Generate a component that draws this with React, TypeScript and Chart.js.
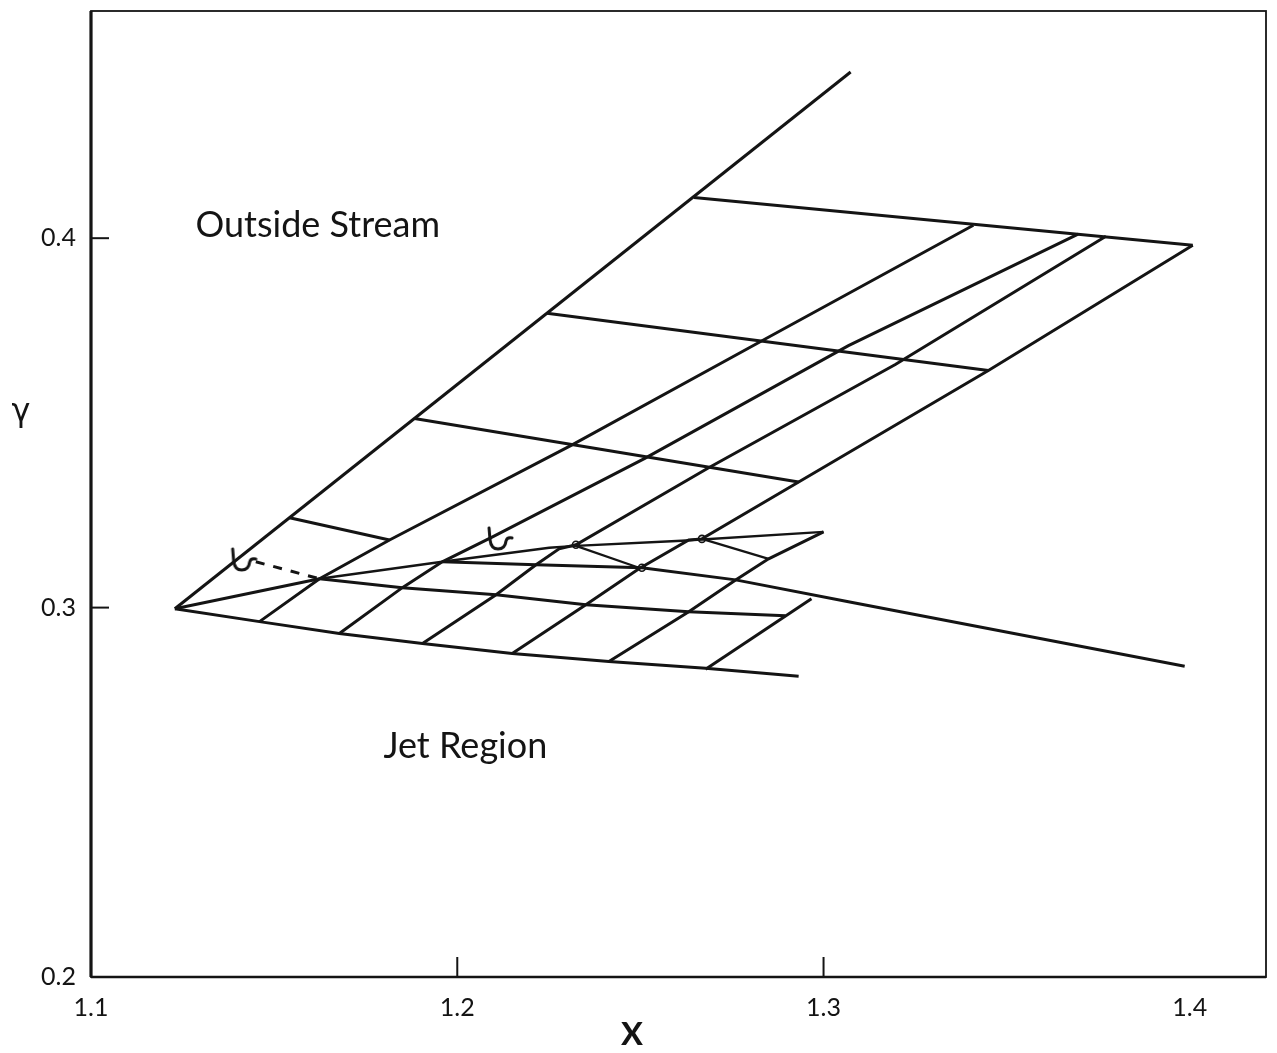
import React, { useEffect, useRef } from 'react';
import { Chart, registerables } from 'chart.js';

Chart.register(...registerables);

// Axis ticks
const xTickValues = [1.1, 1.2, 1.3, 1.4];
const yTickValues = [0.2, 0.3, 0.4];
const xInnerTicks = [1.2, 1.3];
const yInnerTicks = [0.3, 0.4];

// Outside-stream boundary (first characteristic from the lip)
const upperBoundary = [[1.1229, 0.2997], [1.3074, 0.4450]];

// Outside-stream rows (leaving the upper boundary)
const outerRow1 = [[1.2646, 0.4110], [1.4008, 0.3981]];
const outerRow2 = [[1.2245, 0.3797], [1.3450, 0.3642]];
const outerRow3 = [[1.1883, 0.3512], [1.2932, 0.3340]];
const outerRow4 = [[1.1542, 0.3243], [1.1815, 0.3183]];

// Characteristics crossing from jet region into the outside stream
const diag1 = [[1.1460, 0.2962], [1.1624, 0.3078], [1.1815, 0.3183], [1.2311, 0.3439], [1.2837, 0.3725], [1.3409, 0.4035]];
const diag2 = [[1.1678, 0.2930], [1.1850, 0.3054], [1.1959, 0.3124], [1.2095, 0.3191], [1.2512, 0.3404], [1.3068, 0.3709], [1.3695, 0.4011]];
const diag3 = [[1.1905, 0.2903], [1.2106, 0.3035], [1.2215, 0.3116], [1.2278, 0.3159], [1.2324, 0.3170], [1.2684, 0.3377], [1.3196, 0.3658], [1.3771, 0.4005]];
const diag4 = [[1.2150, 0.2876], [1.2351, 0.3008], [1.2496, 0.3105], [1.2632, 0.3183], [1.2668, 0.3186], [1.2932, 0.3340], [1.3450, 0.3642], [1.4008, 0.3981]];
const diag5 = [[1.2414, 0.2854], [1.2632, 0.2989], [1.2760, 0.3075], [1.2850, 0.3132], [1.3000, 0.3205]];
const diag6 = [[1.2678, 0.2833], [1.2967, 0.3024]];

// Jet region lines
const fanLine = [[1.1229, 0.2997], [1.1624, 0.3078]];
const wedgeUpper = [[1.1624, 0.3078], [1.1959, 0.3124], [1.2251, 0.3162], [1.2324, 0.3167], [1.2613, 0.3181], [1.3000, 0.3205]];
const jetBoundary = [[1.1959, 0.3124], [1.2215, 0.3116], [1.2504, 0.3108], [1.2760, 0.3075], [1.3068, 0.3016], [1.3986, 0.2841]];
const jetRow1 = [[1.1624, 0.3078], [1.1850, 0.3054], [1.2106, 0.3035], [1.2351, 0.3008], [1.2632, 0.2989], [1.2896, 0.2978]];
const lowerBoundary = [[1.1229, 0.2997], [1.1460, 0.2962], [1.1678, 0.2930], [1.1905, 0.2903], [1.2150, 0.2876], [1.2414, 0.2854], [1.2678, 0.2836], [1.2932, 0.2814]];
const wedgeRow1 = [[1.2324, 0.3167], [1.2496, 0.3108]];
const wedgeRow2 = [[1.2668, 0.3186], [1.2850, 0.3132]];
const dashedLink = [[1.1450, 0.3124], [1.1624, 0.3078]];

// Small markers
const hookMarks = [[1.1414, 0.3129], [1.2114, 0.3186]];
const circleMarks = [[1.2324, 0.3170], [1.2504, 0.3108], [1.2668, 0.3186]];

// Region labels
const regionLabels = [
  { text: 'Outside Stream', x: 1.1619, y: 0.4035 },
  { text: 'Jet Region', x: 1.2022, y: 0.2625 },
];

const toPts = (arr: number[][]) => arr.map(([x, y]) => ({ x, y }));

const INK = '#141414';
const FONT = 'Lato, "DejaVu Sans", sans-serif';

export default function App() {
  const ref = useRef<HTMLCanvasElement | null>(null);

  useEffect(() => {
    if (!ref.current) return;

    const hook = document.createElement('canvas');
    hook.width = 30;
    hook.height = 26;
    const hc = hook.getContext('2d')!;
    hc.strokeStyle = INK;
    hc.lineWidth = 3;
    hc.lineCap = 'round';
    hc.beginPath();
    hc.moveTo(5, 2);
    hc.lineTo(6, 14);
    hc.quadraticCurveTo(7, 23, 14, 23);
    hc.quadraticCurveTo(21, 23, 22, 15);
    hc.quadraticCurveTo(23, 11, 28, 12);
    hc.stroke();

    const lineDs = (data: number[][], width = 3, dash: number[] = []) => ({
      data: toPts(data),
      showLine: true,
      borderColor: INK,
      borderWidth: width,
      borderDash: dash,
      pointRadius: 0,
      pointHoverRadius: 0,
      fill: false,
      tension: 0,
    });

    const datasets: any[] = [
      lineDs(upperBoundary),
      lineDs(outerRow1),
      lineDs(outerRow2),
      lineDs(outerRow3),
      lineDs(outerRow4),
      lineDs(diag1),
      lineDs(diag2),
      lineDs(diag3),
      lineDs(diag4),
      lineDs(diag5),
      lineDs(diag6),
      lineDs(fanLine),
      lineDs(wedgeUpper, 2.4),
      lineDs(jetBoundary),
      lineDs(jetRow1),
      lineDs(lowerBoundary),
      lineDs(wedgeRow1, 2.2),
      lineDs(wedgeRow2, 2.2),
      lineDs(dashedLink, 3, [9, 9]),
      {
        data: toPts(hookMarks),
        showLine: false,
        pointStyle: hook,
        pointRadius: 10,
        pointHoverRadius: 10,
      },
      {
        data: toPts(circleMarks),
        showLine: false,
        pointStyle: 'circle',
        pointRadius: 3.5,
        pointBorderWidth: 1.6,
        pointBorderColor: INK,
        pointBackgroundColor: '#ffffff',
      },
    ];

    const annot = {
      id: 'annot',
      afterDraw(chart: any) {
        const { ctx, chartArea } = chart;
        const xs = chart.scales.x;
        const ys = chart.scales.y;
        const { left, right, top, bottom } = chartArea;
        ctx.save();
        ctx.strokeStyle = INK;
        ctx.lineWidth = 1.8;
        ctx.strokeRect(left, top, right - left, bottom - top);
        ctx.lineWidth = 3.2;
        ctx.beginPath();
        ctx.moveTo(left, top);
        ctx.lineTo(left, bottom);
        ctx.stroke();
        ctx.lineWidth = 2.4;
        ctx.beginPath();
        ctx.moveTo(left, bottom);
        ctx.lineTo(right, bottom);
        ctx.stroke();
        ctx.lineWidth = 2;
        xInnerTicks.forEach((v) => {
          const px = xs.getPixelForValue(v);
          ctx.beginPath();
          ctx.moveTo(px, bottom);
          ctx.lineTo(px, bottom - 20);
          ctx.stroke();
        });
        yInnerTicks.forEach((v) => {
          const py = ys.getPixelForValue(v);
          ctx.beginPath();
          ctx.moveTo(left, py);
          ctx.lineTo(left + 18, py);
          ctx.stroke();
        });
        ctx.fillStyle = INK;
        ctx.textAlign = 'center';
        ctx.textBaseline = 'middle';
        ctx.font = `36px ${FONT}`;
        regionLabels.forEach((l) => {
          ctx.fillText(l.text, xs.getPixelForValue(l.x), ys.getPixelForValue(l.y));
        });
        ctx.font = `600 44px ${FONT}`;
        ctx.fillText('x', left + 541, bottom + 54);
        ctx.font = `32px "DejaVu Sans", sans-serif`;
        ctx.fillText('γ', 21, ys.getPixelForValue(0.3528));
        ctx.restore();
      },
    };

    const chart = new Chart(ref.current, {
      type: 'scatter',
      data: { datasets },
      options: {
        animation: false,
        responsive: false,
        events: [],
        layout: { padding: { left: 0, top: 7, right: 9, bottom: 0 } },
        plugins: { legend: { display: false }, tooltip: { enabled: false } },
        scales: {
          x: {
            type: 'linear',
            min: 1.1,
            max: 1.4208,
            afterBuildTicks: (s: any) => {
              s.ticks = xTickValues.map((v) => ({ value: v }));
            },
            afterFit: (s: any) => {
              s.height = 76;
              s.paddingLeft = 0;
              s.paddingRight = 0;
            },
            grid: { display: false, drawTicks: false },
            border: { display: false },
            ticks: {
              padding: 16,
              color: INK,
              font: { family: FONT, size: 25 },
              callback: (v: any) => Number(v).toFixed(1),
            },
          },
          y: {
            type: 'linear',
            min: 0.2,
            max: 0.4615,
            afterBuildTicks: (s: any) => {
              s.ticks = yTickValues.map((v) => ({ value: v }));
            },
            afterFit: (s: any) => {
              s.width = 91;
              s.paddingTop = 0;
              s.paddingBottom = 0;
            },
            grid: { display: false, drawTicks: false },
            border: { display: false },
            ticks: {
              padding: 15,
              color: INK,
              font: { family: FONT, size: 25 },
              callback: (v: any) => Number(v).toFixed(1),
            },
          },
        },
      },
      plugins: [annot],
    });

    return () => chart.destroy();
  }, []);

  return (
    <div style={{ position: 'absolute', left: 0, top: 0, width: 1277, height: 1053, background: '#fff' }}>
      <canvas ref={ref} width={1277} height={1053} />
    </div>
  );
}
